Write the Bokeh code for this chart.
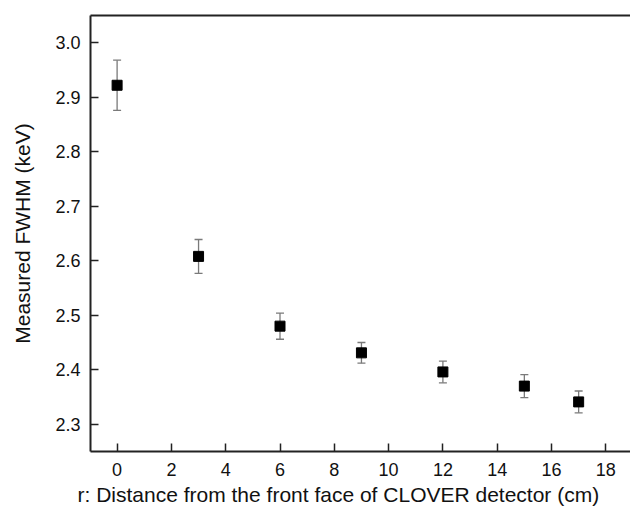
from bokeh.plotting import figure
from bokeh.models import (ColumnDataSource, Whisker, TeeHead, FixedTicker,
                          LinearAxis, Range1d, NumeralTickFormatter, Title)
from bokeh.embed import file_html
from bokeh.resources import INLINE

# ---- data ----
distance_cm = [0, 3, 6, 9, 12, 15, 17]
fwhm_kev = [2.922, 2.608, 2.480, 2.431, 2.396, 2.370, 2.341]
fwhm_err = [0.046, 0.031, 0.024, 0.019, 0.020, 0.021, 0.020]
x_ticks = [0, 2, 4, 6, 8, 10, 12, 14, 16, 18]
y_ticks = [2.3, 2.4, 2.5, 2.6, 2.7, 2.8, 2.9, 3.0]
x_label = "r: Distance from the front face of CLOVER detector (cm)"
y_label = "Measured FWHM (keV)"

lower = [v - e for v, e in zip(fwhm_kev, fwhm_err)]
upper = [v + e for v, e in zip(fwhm_kev, fwhm_err)]
src = ColumnDataSource(dict(x=distance_cm, y=fwhm_kev, lower=lower, upper=upper))

FONT = "Liberation Sans"
AX = "#222222"

p = figure(width=630, height=511, output_backend="svg", toolbar_location=None,
           x_range=Range1d(-0.98, 18.91), y_range=Range1d(2.25, 3.05),
           min_border_left=90, min_border_right=0, min_border_top=15,
           min_border_bottom=60)
p.outline_line_color = None
p.grid.visible = False
p.background_fill_color = "white"
p.border_fill_color = "white"

whisk = Whisker(source=src, base="x", lower="lower", upper="upper",
                dimension="height", line_color="#7a7a7a", line_width=1.3,
                upper_head=TeeHead(size=8, line_color="#7a7a7a", line_width=1.3),
                lower_head=TeeHead(size=8, line_color="#7a7a7a", line_width=1.3))
p.add_layout(whisk)
p.scatter("x", "y", source=src, marker="square", size=10,
          fill_color="black", line_color="black")

for ax in (p.xaxis[0], p.yaxis[0]):
    ax.axis_line_color = AX
    ax.axis_line_width = 2
    ax.major_tick_line_color = AX
    ax.major_tick_line_width = 1.5
    ax.major_tick_in = 8
    ax.major_tick_out = 0
    ax.minor_tick_line_color = None
    ax.major_label_text_font = FONT
    ax.major_label_text_font_size = "18px"
    ax.major_label_text_color = "#111111"
    ax.axis_label_text_font = FONT
    ax.axis_label_text_font_size = "21px"
    ax.axis_label_text_font_style = "normal"
    ax.axis_label_text_color = "#111111"

p.xaxis[0].ticker = FixedTicker(ticks=x_ticks)
p.yaxis[0].ticker = FixedTicker(ticks=y_ticks)
p.yaxis[0].formatter = NumeralTickFormatter(format="0.0")
p.yaxis[0].axis_label = y_label
p.xaxis[0].major_label_standoff = 11
p.yaxis[0].major_label_standoff = 10
p.yaxis[0].axis_label_standoff = 18

# x-axis title, placed slightly left of the frame centre as in the original
xt = Title(text=x_label, align="left", offset=-13, standoff=4,
           text_font=FONT, text_font_size="21px", text_font_style="normal",
           text_color="#111111")
p.add_layout(xt, "below")

top = LinearAxis(ticker=FixedTicker(ticks=[]), axis_line_color=AX, axis_line_width=2,
                 major_tick_line_color=None, minor_tick_line_color=None,
                 major_label_text_font_size="0px")
p.add_layout(top, "above")

open("out.html", "w").write(file_html(p, INLINE))
